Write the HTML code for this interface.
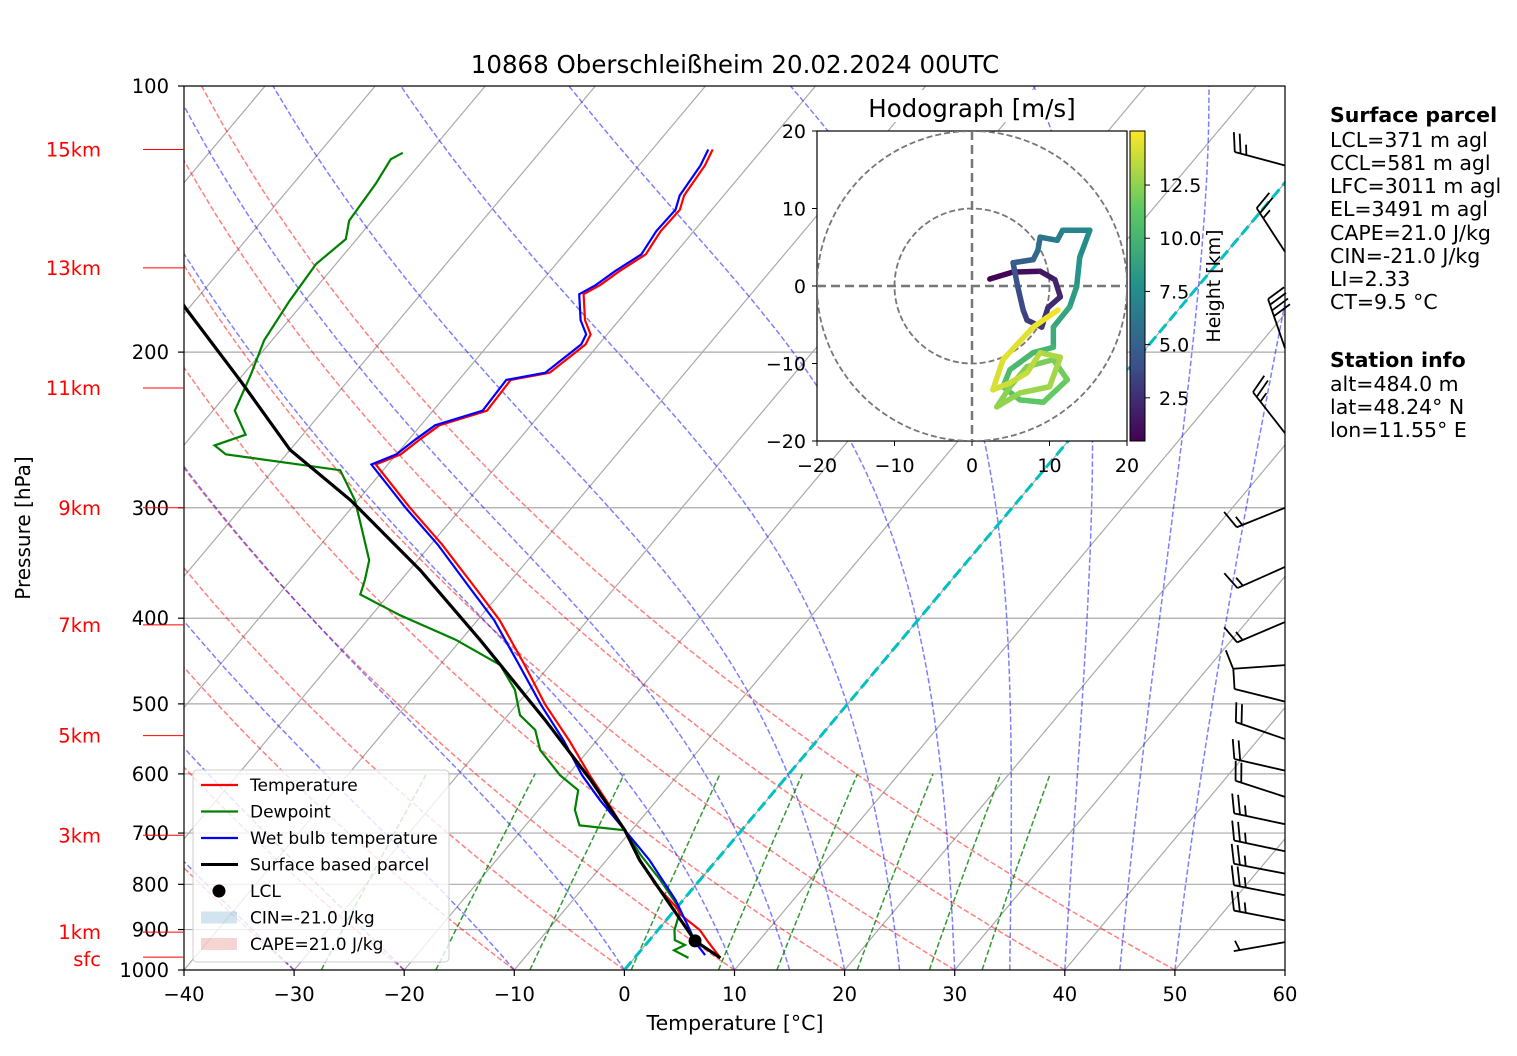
<!DOCTYPE html>
<html><head><meta charset="utf-8">
<style>
html,body{margin:0;padding:0;background:#fff;}
svg{display:block;font-family:"DejaVu Sans","Liberation Sans",sans-serif;}
</style></head>
<body>
<svg id="chart" width="1517" height="1056" viewBox="0 0 1517 1056" xmlns="http://www.w3.org/2000/svg">
<defs>
<clipPath id="plotclip"><rect x="184" y="86" width="1101" height="884"/></clipPath>
<clipPath id="hodoclip"><rect x="817" y="131" width="310" height="310"/></clipPath>
<linearGradient id="viridis" x1="0" y1="1" x2="0" y2="0">
<stop offset="0" stop-color="#440154"/><stop offset="0.25" stop-color="#3b528b"/><stop offset="0.5" stop-color="#21918c"/><stop offset="0.75" stop-color="#5ec962"/><stop offset="1" stop-color="#fde725"/>
</linearGradient>
</defs>
<text x="735" y="73" font-size="24.5" text-anchor="middle">10868 Oberschleißheim 20.02.2024 00UTC</text>
<g id="bg" clip-path="url(#plotclip)"></g>
<g id="series" clip-path="url(#plotclip)"></g>
<g id="barbs"></g>
<rect x="184" y="86" width="1101" height="884" fill="none" stroke="#000" stroke-width="1.2"/>
<g id="axes"></g>
<g id="hodo"></g>
<g id="legend"></g>
<g id="info" font-size="20.5">
<text x="1330" y="122" font-weight="bold">Surface parcel</text>
<text x="1330" y="147">LCL=371 m agl</text>
<text x="1330" y="170">CCL=581 m agl</text>
<text x="1330" y="193">LFC=3011 m agl</text>
<text x="1330" y="216">EL=3491 m agl</text>
<text x="1330" y="240">CAPE=21.0 J/kg</text>
<text x="1330" y="263">CIN=-21.0 J/kg</text>
<text x="1330" y="286">LI=2.33</text>
<text x="1330" y="309">CT=9.5 °C</text>
<text x="1330" y="367" font-weight="bold">Station info</text>
<text x="1330" y="391">alt=484.0 m</text>
<text x="1330" y="414">lat=48.24° N</text>
<text x="1330" y="437">lon=11.55° E</text>
</g>
</svg>
<script>
// ---- data ----
const tempP = [969,930,901,866,850,799,750,695,650,602,550,501,450,402,372,330,300,268,261,251,242,233,215,211,196,191,184,172,168,162,155,146,138,133,123,120,118];
const tempT = [7.8,5.5,3.8,0.9,0,-3.8,-7,-10.6,-14,-18,-22.5,-27.4,-32.5,-38,-42.3,-49,-54.7,-61.1,-59.6,-59,-58.3,-55.1,-55.3,-52.3,-51.2,-51.5,-53.1,-55.2,-54.4,-53.7,-52.6,-53,-52.9,-53.6,-54,-54.3,-54.5];
const dewP = [969,950,937,925,901,855,791,741,695,686,659,626,602,564,535,515,482,452,423,397,376,362,344,310,294,272,261,255,248,233,212,194,175,159,149,142,129,121,119];
const dewT = [4.9,3.0,3.6,2.3,1.5,0.5,-3.6,-7.3,-10.6,-15.1,-16.7,-17.9,-20.7,-24.4,-26.4,-28.9,-31.3,-34.5,-40.5,-47.4,-52.6,-53.3,-54.4,-58.3,-60.3,-63.9,-75.5,-77.2,-75.2,-78,-79.3,-80.7,-81.4,-81.8,-81,-82.1,-82.5,-83,-82.4];
const wbP = [962,930,901,833,751,695,642,602,550,501,450,402,372,330,300,268,261,251,242,233,215,211,196,191,184,172,168,162,155,146,138,133,123,120,118];
const wbT = [6.2,4.3,2.9,-0.7,-6.1,-10.6,-15.2,-18.7,-23,-27.8,-33,-38.5,-42.8,-49.4,-55.1,-61.5,-60,-59.4,-58.7,-55.5,-55.7,-52.7,-51.6,-51.9,-53.5,-55.6,-54.8,-54.1,-53,-53.4,-53.3,-54,-54.4,-54.7,-54.9];
const parcelP = [969,927,844,751,695,609,521,423,353,294,258,215,178,150];
const parcelT = [7.8,4.2,-0.8,-7,-10.6,-17.6,-26.3,-38.3,-49,-60.7,-70,-79.9,-90.4,-99];
const lclP = 927, lclT = 4.2;
const pTicks = [100,200,300,400,500,600,700,800,900,1000];
const tTicks = [-40,-30,-20,-10,0,10,20,30,40,50,60];
const heightLabels = ["15km","13km","11km","9km","7km","5km","3km","1km","sfc"];
const heightP = [118,160.6,219.6,300,407,543,704,906,967];
const barbP = [123,154,198,247,300,350,404,452,497,548,595,637,684,734,778,823,879,930];
const barbDir = [285,327,341,322,248,246,247,266,284,289,283,288,282,282,281,281,281,260];
const barbSpd = [25,25,40,25,15,15,15,10,10,20,20,20,25,25,25,25,25,5];
const hodoU = [2.3,5.3,8.8,10.7,11.4,9.8,9.0,7.1,6.6,5.9,5.3,7.9,8.5,8.8,11,11.7,15.2,13.9,13.5,12.6,10.5,10.5,7.9,4.9,4,6.2,9.2,12.3,10.5,7.1,4.9,3.2,6.2,10,11.4,8.8,7.1,4.9,2.7,4,7.9,11.1];
const hodoV = [0.9,1.8,1.9,0.8,-1.4,-2.8,-5.3,-4.4,-3.1,-0.1,3.0,3.4,4.6,6.3,5.9,7.2,7.2,3.7,-0.1,-2.7,-5.3,-7.9,-8.6,-10.8,-13,-14.7,-15,-12.1,-9.5,-10.4,-13,-15.6,-13.8,-13,-9.2,-8.6,-11.2,-12.5,-13.4,-9.5,-5.3,-3.1];
const hodoH = [0.5,1,1.5,2,2.3,2.6,3.0,3.3,3.8,4.3,4.8,5.3,5.7,6.2,6.6,7,7.5,8,8.5,9,9.5,10,10.3,10.6,10.9,11.2,11.5,11.8,12.0,12.2,12.4,12.6,12.8,13.0,13.2,13.5,13.8,14.0,14.2,14.4,14.7,15.0];
const hodoTicks = [-20,-10,0,10,20];
const cbTicks = [2.5,5.0,7.5,10.0,12.5];
const mixRatios = [0.0004,0.001,0.002,0.004,0.007,0.01,0.016,0.024,0.032];
const dryT0 = [-40,-30,-20,-10,0,10,20,30,40,50];
const moistT0 = [-40,-30,-20,-10,0,10,15,20,25,30,35,40,45,50];

// ---- helpers ----
const NS="http://www.w3.org/2000/svg";
function mk(tag, parent, attrs){const e=document.createElementNS(NS,tag);for(const k in attrs)e.setAttribute(k,attrs[k]);parent.appendChild(e);return e;}
function yOf(p){return 970-884*Math.log10(1000/p);}
function xOf(T,p){return 184+(T+40)*11.01+(970-yOf(p))*0.839;}
function pathFrom(Ps,Ts){return Ps.map((p,i)=>(i?'L':'M')+xOf(Ts[i],p).toFixed(1)+','+yOf(p).toFixed(1)).join(' ');}
const bg=document.getElementById('bg'), series=document.getElementById('series'), axes=document.getElementById('axes');
const pLevels=[];for(let p=1000;p>=100;p-=10)pLevels.push(p);

for(let T=-120;T<=60;T+=10){
  const l=mk('line',bg,{x1:xOf(T,1050),y1:yOf(1050),x2:xOf(T,100),y2:yOf(100),stroke:'#aaa','stroke-width':1.2});
  
  
}
pTicks.forEach(p=>{
  const l=mk('line',bg,{x1:184,y1:yOf(p),x2:1285,y2:yOf(p),stroke:'#aaa','stroke-width':1.2});
  
  
});
dryT0.forEach(t0=>{
  const th=t0+273.15;
  const d=pLevels.map((p,i)=>(i?'L':'M')+xOf(th*Math.pow(p/1000,0.2857)-273.15,p).toFixed(1)+','+yOf(p).toFixed(1)).join(' ');
  const e=mk('path',bg,{d:d,fill:'none',stroke:'#ff0000','stroke-opacity':0.5,'stroke-width':1.5,'stroke-dasharray':'5.5,2.5'});
  
  
});
function es(T){return 6.112*Math.exp(17.67*(T-273.15)/(T-29.65));}
function dTdp(T,p){const rs=0.622*es(T)/(p-es(T));return (1/p)*(287.04*T+2.501e6*rs)/(1005.7+2.501e6*2.501e6*rs*0.622/(287.04*T*T));}
moistT0.forEach(t0=>{
  let T=t0+273.15;const pts=[];
  for(let p=1000;p>=100;p-=5){
    pts.push([T-273.15,p]);
    const k1=dTdp(T,p),k2=dTdp(T-5*k1,p-5);T=T-5*(k1+k2)/2;
  }
  const d=pts.map((q,i)=>(i?'L':'M')+xOf(q[0],q[1]).toFixed(1)+','+yOf(q[1]).toFixed(1)).join(' ');
  const e=mk('path',bg,{d:d,fill:'none',stroke:'#0000ff','stroke-opacity':0.5,'stroke-width':1.5,'stroke-dasharray':'5.5,2.5'});
  
  
});
mixRatios.forEach(w=>{
  const pts=[];
  for(let p=1000;p>=600;p-=20){const e=p*w/(0.622+w);const l=Math.log(e/6.112);pts.push([243.5*l/(17.67-l),p]);}
  const d=pts.map((q,i)=>(i?'L':'M')+xOf(q[0],q[1]).toFixed(1)+','+yOf(q[1]).toFixed(1)).join(' ');
  const e=mk('path',bg,{d:d,fill:'none',stroke:'#008000','stroke-opacity':0.8,'stroke-width':1.5,'stroke-dasharray':'5.5,2.5'});
  
  
});
const zi=mk('line',bg,{x1:xOf(0,1000),y1:yOf(1000),x2:xOf(0,100),y2:yOf(100),stroke:'#00c0c0','stroke-width':3,'stroke-dasharray':'11,5'});



const sDew=mk('path',series,{d:pathFrom(dewP,dewT),fill:'none',stroke:'#008000','stroke-width':2.2});


const sTemp=mk('path',series,{d:pathFrom(tempP,tempT),fill:'none',stroke:'#ff0000','stroke-width':2.2});


const sWb=mk('path',series,{d:pathFrom(wbP,wbT),fill:'none',stroke:'#0000ff','stroke-width':2.2});


const sPar=mk('path',series,{d:pathFrom(parcelP,parcelT),fill:'none',stroke:'#000','stroke-width':3.2});


const lcl=mk('circle',series,{cx:xOf(lclT,lclP),cy:yOf(lclP),r:6.5,fill:'#000'});



pTicks.forEach(p=>{
  const t=mk('text',axes,{x:169,y:yOf(p)+7,'font-size':19.5,'text-anchor':'end'});t.textContent=p;
  
  
  const k=mk('line',axes,{x1:178,y1:yOf(p),x2:184,y2:yOf(p),stroke:'#000','stroke-width':1.2});
  
  
});
tTicks.forEach(T=>{
  const x=184+(T+40)*11.01;
  const t=mk('text',axes,{x:x,y:1001,'font-size':19.5,'text-anchor':'middle'});t.textContent=(T<0?'\u2212'+(-T):T);
  
  
  const k=mk('line',axes,{x1:x,y1:970,x2:x,y2:976,stroke:'#000','stroke-width':1.2});
  
  
});
heightLabels.forEach((lab,i)=>{
  const y=yOf(heightP[i]);
  const t=mk('text',axes,{x:101,y:y+(lab==='sfc'?9:7),'font-size':19.5,'text-anchor':'end',fill:'#ff0000'});t.textContent=lab;
  
  
  const k=mk('line',axes,{x1:143,y1:y,x2:184,y2:y,stroke:'#ff0000','stroke-width':1});
  
  
});
let yt=mk('text',axes,{x:0,y:0,'font-size':20,'text-anchor':'middle',transform:'translate(30,528) rotate(-90)'});yt.textContent='Pressure [hPa]';


let xt=mk('text',axes,{x:735,y:1030,'font-size':20.5,'text-anchor':'middle'});xt.textContent='Temperature [°C]';



const barbs=document.getElementById('barbs');
barbP.forEach((p,i)=>{
  const bx=1285,by=yOf(p);const a=barbDir[i]*Math.PI/180;
  const sx=Math.sin(a),sy=-Math.cos(a);const L=52;
  const tx=bx+sx*L,ty=by+sy*L;
  const g=mk('g',barbs,{stroke:'#000','stroke-width':1.8,fill:'none'});
  
  
  mk('line',g,{x1:bx,y1:by,x2:tx,y2:ty});
  const nx=-sy,ny=sx;let spd=barbSpd[i];let pos=0;
  while(spd>=10){const px=tx-sx*pos,py=ty-sy*pos;mk('line',g,{x1:px,y1:py,x2:px+nx*19+sx*6,y2:py+ny*19+sy*6});pos+=6;spd-=10;}
  if(spd>=5){if(pos===0)pos=6;const px=tx-sx*pos,py=ty-sy*pos;mk('line',g,{x1:px,y1:py,x2:px+nx*10+sx*3,y2:py+ny*10+sy*3});}
});

const hodo=document.getElementById('hodo');
const hx=u=>972+u*7.75, hy=v=>286-v*7.75;
const htb=mk('rect',hodo,{x:858,y:90,width:230,height:32,fill:'#fff'});


const ht=mk('text',hodo,{x:972,y:117,'font-size':24.5,'text-anchor':'middle'});ht.textContent='Hodograph [m/s]';


const hbox=mk('rect',hodo,{x:817,y:131,width:310,height:310,fill:'#fff',stroke:'#000','stroke-width':1.2});


const hin=mk('g',hodo,{'clip-path':'url(#hodoclip)'});
[10,20].forEach(r=>{const c=mk('circle',hin,{cx:972,cy:286,r:r*7.75,fill:'none',stroke:'#777','stroke-width':1.8,'stroke-dasharray':'6,3'});

});
let hl=mk('line',hin,{x1:817,y1:286,x2:1127,y2:286,stroke:'#777','stroke-width':2.5,'stroke-dasharray':'9,5'});


hl=mk('line',hin,{x1:972,y1:131,x2:972,y2:441,stroke:'#777','stroke-width':2.5,'stroke-dasharray':'9,5'});


function viridis(t){
  const s=[[68,1,84],[59,82,139],[33,145,140],[94,201,98],[253,231,37]];
  t=Math.max(0,Math.min(1,t))*4;const i=Math.min(3,Math.floor(t)),f=t-i;
  return 'rgb('+s[i].map((c,k)=>Math.round(c+(s[i+1][k]-c)*f)).join(',')+')';
}
const hmin=0.47,hmax=15.04;
for(let i=0;i<hodoU.length-1;i++){
  const seg=mk('line',hin,{x1:hx(hodoU[i]),y1:hy(hodoV[i]),x2:hx(hodoU[i+1]),y2:hy(hodoV[i+1]),stroke:viridis((hodoH[i]-hmin)/(hmax-hmin)),'stroke-width':5.5,'stroke-linecap':'round'});
  
  
}
hodoTicks.forEach(v=>{
  const lab=v<0?'\u2212'+(-v):String(v);
  let t=mk('text',hodo,{x:hx(v),y:472,'font-size':19,'text-anchor':'middle'});t.textContent=lab;
  
  
  t=mk('text',hodo,{x:806,y:hy(v)+7,'font-size':19,'text-anchor':'end'});t.textContent=lab;
  
  
  mk('line',hodo,{x1:hx(v),y1:441,x2:hx(v),y2:446,stroke:'#000'});
  mk('line',hodo,{x1:812,y1:hy(v),x2:817,y2:hy(v),stroke:'#000'});
});
const cb=mk('rect',hodo,{x:1130,y:131,width:15,height:310,fill:'url(#viridis)',stroke:'#000','stroke-width':1});


cbTicks.forEach(v=>{
  const y=441-(v-hmin)/(hmax-hmin)*310;
  mk('line',hodo,{x1:1145,y1:y,x2:1150,y2:y,stroke:'#000'});
  const t=mk('text',hodo,{x:1159,y:y+7,'font-size':19});t.textContent=v.toFixed(1);
  
  
});
const cbt=mk('text',hodo,{x:0,y:0,'font-size':19,'text-anchor':'middle',transform:'translate(1220,286) rotate(-90)'});cbt.textContent='Height [km]';



const lg=document.getElementById('legend');
const lb=mk('rect',lg,{x:193,y:770,width:256,height:192,rx:4,fill:'#fff','fill-opacity':0.8,stroke:'#ccc'});


const entries=[['Temperature','line','#ff0000'],['Dewpoint','line','#008000'],['Wet bulb temperature','line','#0000ff'],['Surface based parcel','line','#000'],['LCL','dot','#000'],['CIN=-21.0 J/kg','patch','rgba(31,119,180,0.2)'],['CAPE=21.0 J/kg','patch','rgba(214,39,40,0.2)']];
entries.forEach((e,i)=>{
  const y=785+i*26.5;
  const g=mk('g',lg,{});
  
  
  if(e[1]==='line')mk('line',g,{x1:201,y1:y,x2:238,y2:y,stroke:e[2],'stroke-width':e[2]==='#000'?3:2.2});
  else if(e[1]==='dot')mk('circle',g,{cx:219,cy:y,r:6.5,fill:'#000'});
  else mk('rect',g,{x:201,y:y-6,width:36,height:12,fill:e[2]});
  const t=mk('text',g,{x:250,y:y+6,'font-size':17});t.textContent=e[0];
});
</script>
</body></html>
